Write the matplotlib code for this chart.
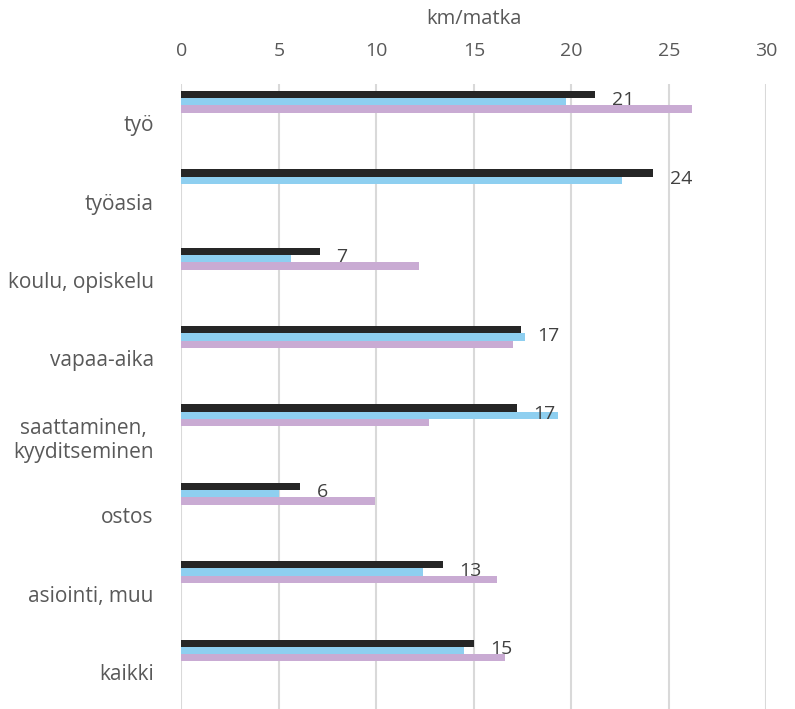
import numpy as np
from matplotlib import pyplot as plt

categories = ['työ', 'työasia', 'koulu, opiskelu', 'vapaa-aika',
              'saattaminen,\nkyyditseminen', 'ostos', 'asiointi, muu', 'kaikki']
series_1 = [21.2, 24.2, 7.1, 17.4, 17.2, 6.1, 13.4, 15.0]
series_2 = [19.7, 22.6, 5.6, 17.6, 19.3, 5.0, 12.4, 14.5]
series_3 = [26.2, np.nan, 12.2, 17.0, 12.7, 9.9, 16.2, 16.6]
xticks = [0, 5, 10, 15, 20, 25, 30]

text_col = '#595959'
plt.rcParams['font.family'] = ['Open Sans', 'DejaVu Sans']

fig = plt.figure(figsize=(7.95, 7.09), dpi=100)
ax = fig.add_axes([0.2283, -0.003, 0.7358, 0.8845])

y = np.arange(len(categories))
h = 0.093
ax.barh(y - 0.366, series_1, height=h, color='#262626')
ax.barh(y - 0.273, series_2, height=h, color='#8ecff0')
ax.barh(y - 0.180, series_3, height=h, color='#c9abd3')

for yi, v in zip(y, series_1):
    ax.annotate(f'{v:.0f}', (v, yi - 0.366 + h * 0.8), xytext=(12, 0),
                textcoords='offset points', va='center', ha='left',
                fontsize=14, color='#404040')

ax.set_xlim(0, 30)
ax.set_ylim(len(categories) - 0.5, -0.5)
ax.set_xticks(xticks)
ax.xaxis.tick_top()
ax.xaxis.set_label_position('top')
ax.set_xlabel('km/matka', fontsize=14.5, color=text_col, labelpad=13)
ax.tick_params(axis='x', length=0, pad=17, labelsize=14, labelcolor=text_col)
ax.set_yticks(y)
ax.set_yticklabels(categories, multialignment='center')
ax.tick_params(axis='y', length=0, pad=20, labelsize=15, labelcolor=text_col)
ax.grid(axis='x', color='#d9d9d9', linewidth=1.5)
ax.set_axisbelow(True)
for s in ax.spines.values():
    s.set_visible(False)

plt.savefig('out.png', dpi=100)
